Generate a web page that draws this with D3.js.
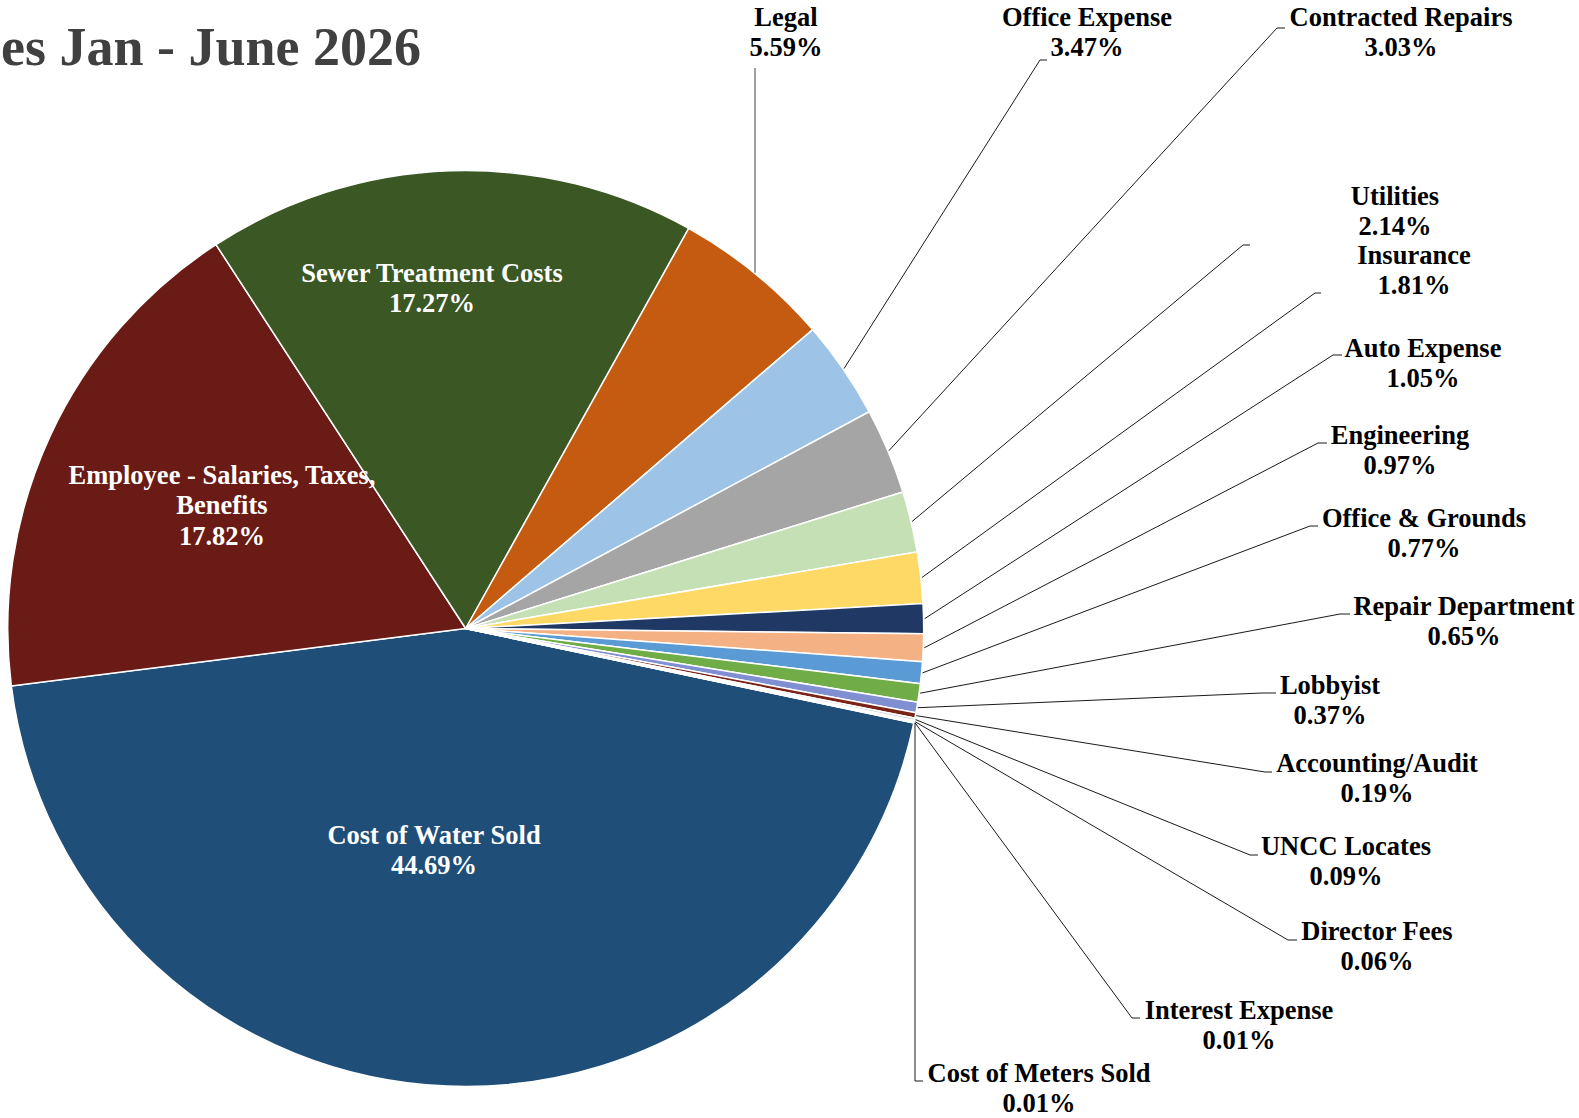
<!DOCTYPE html>
<html>
<head>
<meta charset="utf-8">
<script src="https://cdn.jsdelivr.net/npm/d3@7"></script>
<style>
  html, body { margin: 0; padding: 0; background: #fff; }
  svg text { font-family: "Liberation Serif", "Times New Roman", serif; font-weight: bold; }
</style>
</head>
<body>
<div id="chart"></div>
<script>
// expense categories, in the order they run round the pie
const categories = [
  "Cost of Water Sold", "Employee - Salaries, Taxes, Benefits", "Sewer Treatment Costs",
  "Legal", "Office Expense", "Contracted Repairs", "Utilities", "Insurance",
  "Auto Expense", "Engineering", "Office & Grounds", "Repair Department",
  "Lobbyist", "Accounting/Audit", "UNCC Locates", "Director Fees",
  "Interest Expense", "Cost of Meters Sold"
];
const shares = [44.69, 17.82, 17.27, 5.59, 3.47, 3.03, 2.14, 1.81, 1.05, 0.97, 0.77, 0.65, 0.37, 0.19, 0.09, 0.06, 0.01, 0.01];
const colors = [
  "#1F4E79", "#6A1B15", "#3A5724", "#C55A11", "#9DC3E6", "#A5A5A5", "#C5E0B4", "#FFD966",
  "#203864", "#F4B183", "#5B9BD5", "#70AD47", "#7F8FD2", "#7A2418", "#C9C9C9", "#FBE5D6",
  "#DEEBF7", "#E2F0D9"
];
const title = "es Jan - June 2026";

// label layout: inside labels (white) and outside labels with leader lines
const insideLabels = {
  0: { x: 434, y: 835, lines: ["Cost of Water Sold"] },
  1: { x: 222, y: 475, lines: ["Employee - Salaries, Taxes,", "Benefits"] },
  2: { x: 432, y: 273, lines: ["Sewer Treatment Costs"] }
};
const outsideLabels = {
  3:  { x: 786,  y: 17,   elbow: [755, 68],    stub: 755 },
  4:  { x: 1087, y: 17,   elbow: [1040, 60],   stub: 1047 },
  5:  { x: 1401, y: 17,   elbow: [1277, 28],   stub: 1285 },
  6:  { x: 1395, y: 196,  elbow: [1243, 245],  stub: 1250 },
  7:  { x: 1414, y: 255,  elbow: [1315, 293],  stub: 1321 },
  8:  { x: 1423, y: 348,  elbow: [1333, 355],  stub: 1342 },
  9:  { x: 1400, y: 435,  elbow: [1318, 443],  stub: 1327 },
  10: { x: 1424, y: 518,  elbow: [1310, 526],  stub: 1318 },
  11: { x: 1464, y: 606,  elbow: [1340, 614],  stub: 1350 },
  12: { x: 1330, y: 685,  elbow: [1262, 693],  stub: 1276 },
  13: { x: 1377, y: 763,  elbow: [1265, 772],  stub: 1272 },
  14: { x: 1346, y: 846,  elbow: [1250, 855],  stub: 1258 },
  15: { x: 1377, y: 931,  elbow: [1288, 940],  stub: 1297 },
  16: { x: 1239, y: 1010, elbow: [1132, 1018], stub: 1140 },
  17: { x: 1039, y: 1073, elbow: [915, 1081],  stub: 923 }
};

const width = 1579, height = 1118;
const cx = 465.7, cy = 628.5, R = 458;
const fontSize = 26.5, lineGap = 30.5;
const startAngle = 101.9 * Math.PI / 180;

const data = categories.map((c, i) => ({ name: c, value: shares[i], color: colors[i], i: i }));

const svg = d3.select("#chart").append("svg")
  .attr("width", width)
  .attr("height", height);

svg.append("text")
  .attr("x", 1)
  .attr("y", 65)
  .attr("fill", "#404040")
  .style("font-size", "54px")
  .text(title);

const pie = d3.pie()
  .sort(null)
  .value(d => d.value)
  .startAngle(startAngle)
  .endAngle(startAngle + 2 * Math.PI);

const arc = d3.arc().innerRadius(0).outerRadius(R);
const arcs = pie(data);

const g = svg.append("g").attr("transform", `translate(${cx},${cy})`);

g.selectAll("path.slice")
  .data(arcs)
  .join("path")
  .attr("class", "slice")
  .attr("d", arc)
  .attr("fill", d => d.data.color)
  .attr("stroke", "#fff")
  .attr("stroke-width", 1.5);

// leader lines from the slice edge to the outside labels
const edgePoint = d => {
  const a = (d.startAngle + d.endAngle) / 2;
  return [cx + Math.sin(a) * (R + 1), cy - Math.cos(a) * (R + 1)];
};

const outside = arcs.filter(d => outsideLabels[d.data.i]);

svg.selectAll("path.leader")
  .data(outside)
  .join("path")
  .attr("class", "leader")
  .attr("fill", "none")
  .attr("stroke", d => d.data.i === 3 ? "#808080" : "#1a1a1a")
  .attr("stroke-width", d => d.data.i === 3 ? 1.5 : 1)
  .attr("d", d => {
    const L = outsideLabels[d.data.i];
    const p = edgePoint(d);
    if (d.data.i === 3) return `M${L.elbow[0]},${p[1]}L${L.elbow[0]},${L.elbow[1]}`;
    if (d.data.i === 17) return `M${L.elbow[0]},${p[1]}L${L.elbow[0]},${L.elbow[1]}L${L.stub},${L.elbow[1]}`;
    return `M${p[0]},${p[1]}L${L.elbow[0]},${L.elbow[1]}L${L.stub},${L.elbow[1]}`;
  });

const pct = v => v.toFixed(2) + "%";

function drawLabel(x, y, lines, fill) {
  const t = svg.append("text")
    .attr("text-anchor", "middle")
    .attr("fill", fill)
    .style("font-size", fontSize + "px");
  lines.forEach((ln, k) => {
    t.append("tspan")
      .attr("x", x)
      .attr("y", y + k * lineGap + fontSize * 0.33)
      .text(ln);
  });
}

arcs.forEach(d => {
  const i = d.data.i;
  if (insideLabels[i]) {
    const L = insideLabels[i];
    drawLabel(L.x, L.y, L.lines.concat([pct(d.data.value)]), "#fff");
  } else if (outsideLabels[i]) {
    const L = outsideLabels[i];
    drawLabel(L.x, L.y, [d.data.name, pct(d.data.value)], "#000");
  }
});
</script>
</body>
</html>
